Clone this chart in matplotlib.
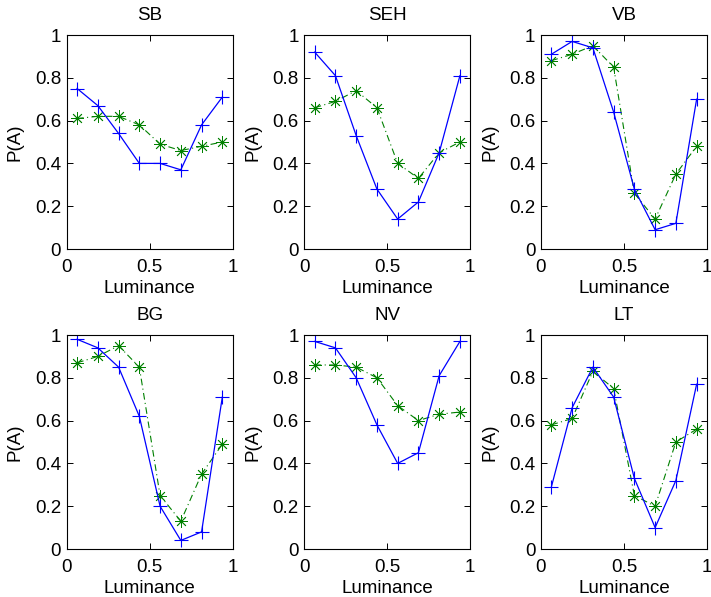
"""Six panels of P(A) against luminance, MATLAB-style."""
import matplotlib
matplotlib.use("Agg")
import matplotlib.pyplot as plt

plt.rcParams["font.family"] = ["Liberation Sans", "DejaVu Sans"]
plt.rcParams["font.size"] = 13.5

luminance = [0.0625, 0.1875, 0.3125, 0.4375, 0.5625, 0.6875, 0.8125, 0.9375]

panel_names = ["SB", "SEH", "VB", "BG", "NV", "LT"]

sb_solid = [0.75, 0.67, 0.54, 0.40, 0.40, 0.37, 0.58, 0.71]
sb_dash = [0.61, 0.62, 0.62, 0.58, 0.49, 0.46, 0.48, 0.50]

seh_solid = [0.92, 0.81, 0.53, 0.28, 0.14, 0.22, 0.45, 0.81]
seh_dash = [0.66, 0.69, 0.74, 0.66, 0.40, 0.33, 0.45, 0.50]

vb_solid = [0.91, 0.97, 0.94, 0.64, 0.28, 0.09, 0.12, 0.70]
vb_dash = [0.88, 0.91, 0.95, 0.85, 0.26, 0.14, 0.35, 0.48]

bg_solid = [0.98, 0.94, 0.85, 0.62, 0.20, 0.04, 0.08, 0.71]
bg_dash = [0.87, 0.90, 0.95, 0.85, 0.25, 0.13, 0.35, 0.49]

nv_solid = [0.97, 0.94, 0.80, 0.58, 0.40, 0.45, 0.81, 0.97]
nv_dash = [0.86, 0.86, 0.85, 0.80, 0.67, 0.60, 0.63, 0.64]

lt_solid = [0.29, 0.66, 0.85, 0.71, 0.33, 0.10, 0.32, 0.77]
lt_dash = [0.58, 0.61, 0.83, 0.75, 0.25, 0.20, 0.50, 0.56]

solid_series = [sb_solid, seh_solid, vb_solid, bg_solid, nv_solid, lt_solid]
dash_series = [sb_dash, seh_dash, vb_dash, bg_dash, nv_dash, lt_dash]

x_ticks = [0, 0.5, 1]
x_tick_labels = ["0", "0.5", "1"]
y_ticks = [0, 0.2, 0.4, 0.6, 0.8, 1]
y_tick_labels = ["0", "0.2", "0.4", "0.6", "0.8", "1"]

W, H = 711, 597
lefts = [66.7, 304.3, 541]
tops = [35, 335]
ax_w, ax_h = 166, 214

fig = plt.figure(figsize=(W / 100, H / 100), dpi=100)

for i, name in enumerate(panel_names):
    row, col = divmod(i, 3)
    left = lefts[col] / W
    bottom = (H - tops[row] - ax_h) / H
    ax = fig.add_axes([left, bottom, ax_w / W, ax_h / H])

    ax.plot(luminance, dash_series[i], linestyle=(0, (6, 3, 1, 3)),
            color="#008000", linewidth=0.8, marker=(8, 2, 0), markersize=9,
            markeredgewidth=0.6)
    ax.plot(luminance, solid_series[i], linestyle="-", color="#0000ff",
            linewidth=0.9, marker="+", markersize=10, markeredgewidth=0.8)

    ax.set_xlim(0, 1)
    ax.set_ylim(0, 1)
    ax.set_xticks(x_ticks)
    ax.set_xticklabels(x_tick_labels)
    ax.set_yticks(y_ticks)
    ax.set_yticklabels(y_tick_labels)
    ax.tick_params(direction="in", length=4, width=0.7, top=True, right=True)
    ax.tick_params(axis="x", pad=7)
    ax.tick_params(axis="y", pad=4)
    for sp in ax.spines.values():
        sp.set_linewidth(0.8)

    ax.set_title(name, fontsize=13.5, pad=10.5)
    ax.set_xlabel("Luminance", labelpad=3)
    ax.set_ylabel("P(A)", labelpad=8)

fig.savefig("out.png", dpi=100)
